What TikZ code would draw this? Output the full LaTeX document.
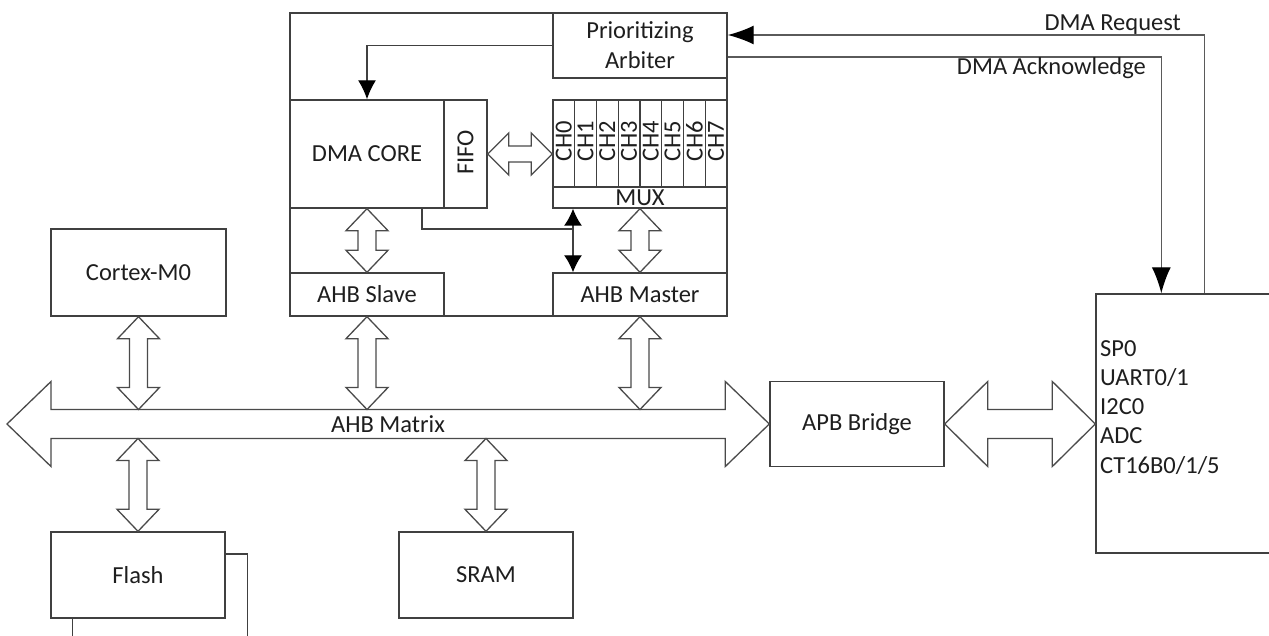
\documentclass[tikz,border=0pt]{standalone}
\usepackage{fontspec}
\setmainfont{Carlito}
\usetikzlibrary{arrows.meta,calc}

\definecolor{edge}{HTML}{404040}
\definecolor{barrow}{HTML}{4A4A4A}
\definecolor{sigline}{HTML}{5A5A5A}
\definecolor{txt}{HTML}{1E1E1E}
\newcommand\diagfont{\fontsize{24.5}{29.25}\selectfont}

% vertical two-headed block arrow: #1 top tip, #2 bottom tip,
% #3 head length, #4 head half width, #5 shaft half width
\newcommand\vblockarrow[5]{%
  \draw[blockarrow] let \p1=(#1), \p2=(#2) in
    (\x1,\y1) -- (\x1+#4,\y1-#3) -- (\x1+#5,\y1-#3) -- (\x1+#5,\y2+#3)
    -- (\x1+#4,\y2+#3) -- (\x1,\y2) -- (\x1-#4,\y2+#3) -- (\x1-#5,\y2+#3)
    -- (\x1-#5,\y1-#3) -- (\x1-#4,\y1-#3) -- cycle;}
% horizontal two-headed block arrow: #1 left tip, #2 right tip
\newcommand\hblockarrow[5]{%
  \draw[blockarrow] let \p1=(#1), \p2=(#2) in
    (\x1,\y1) -- (\x1+#3,\y1+#4) -- (\x1+#3,\y1+#5) -- (\x2-#3,\y1+#5)
    -- (\x2-#3,\y1+#4) -- (\x2,\y1) -- (\x2-#3,\y1-#4) -- (\x2-#3,\y1-#5)
    -- (\x1+#3,\y1-#5) -- (\x1+#3,\y1-#4) -- cycle;}

\tikzset{
  box/.style={draw=edge, line width=1.4pt, inner sep=0pt, text=txt,
    font=\diagfont, fill=white},
  label/.style={inner sep=0pt, text=txt, font=\diagfont},
  blockarrow/.style={draw=barrow, line width=1.3pt, fill=white, line join=miter},
  wire/.style={draw=edge, line width=1.4pt},
  sigwire/.style={draw=sigline, line width=1.4pt},
  headtip/.style={-{Latex[length=26pt,width=19pt,color=black]}},
  smalltip/.style={-{Latex[length=19pt,width=18pt,color=black]}},
  bothtips/.style={{Latex[length=17pt,width=18pt,color=black]}-{Latex[length=17pt,width=18pt,color=black]}},
}

\begin{document}
\begin{tikzpicture}[x=1pt,y=-1pt]
\useasboundingbox (0,0) rectangle (1269,636);
\clip (0,0) rectangle (1269,636);

% DMA controller
\node[box, minimum width=437pt, minimum height=303pt] (dma) at (508.5,164.5) {};
\node[box, minimum width=174pt, minimum height=65pt, align=center,
      font=\fontsize{24.5}{30}\selectfont] (arbiter) at (640,45.5)
      {Prioritizing\\Arbiter};
\node[box, minimum width=154pt, minimum height=108pt] (core) at (367,154) {DMA CORE};
\node[box, minimum width=43pt, minimum height=108pt] (fifo) at (465.5,154) {};
\node[label, rotate=90] (fifolbl) at (465.5,152.5) {FIFO};
\foreach \i in {0,...,7}{
  \node[box, minimum width=21.75pt, minimum height=87pt] (ch\i)
        at ({563.875+\i*21.75},143.5) {};
  \node[label, rotate=90] (chlbl\i) at ($(ch\i.center)+(0,-2)$) {CH\i};
}
\node[box, minimum width=174pt, minimum height=21pt] (mux) at (640,197.5) {MUX};
\node[box, minimum width=154pt, minimum height=43pt] (slave) at (367,294.5) {AHB Slave};
\node[box, minimum width=174pt, minimum height=43pt] (master) at (640,294.5) {AHB Master};

% system blocks
\node[box, minimum width=175pt, minimum height=87pt] (cortex) at (138.5,272.5) {Cortex-M0};
\node[box, minimum width=174pt, minimum height=86pt] (flash) at (138,575) {Flash};
\node[box, minimum width=174pt, minimum height=86pt] (sram) at (486,575) {SRAM};
\node[box, minimum width=174pt, minimum height=85pt] (apb) at (857,424) {APB Bridge};
\node[box, minimum width=210pt, minimum height=259pt] (periph) at (1201,423.5) {};
\node[label, align=left, anchor=north west] (periphlbl) at (1100,340)
  {SP0\\UART0/1\\I2C0\\ADC\\CT16B0/1/5};

% AHB matrix bus
\coordinate (busL) at (7,424);
\coordinate (bustop) at (0,409.5);
\coordinate (busbot) at (0,438.5);
\hblockarrow{busL}{apb.west}{44pt}{42.5pt}{14.5pt}
\node[label] (buslbl) at (388,424) {AHB Matrix};

% bus connections
\vblockarrow{cortex.south}{cortex.south |- bustop}{22pt}{21pt}{9pt}
\vblockarrow{slave.south}{slave.south |- bustop}{22pt}{21pt}{9pt}
\vblockarrow{master.south}{master.south |- bustop}{22pt}{21pt}{9pt}
\vblockarrow{flash.north |- busbot}{flash.north}{22pt}{21pt}{9pt}
\vblockarrow{sram.north |- busbot}{sram.north}{22pt}{21pt}{9pt}
\hblockarrow{apb.east}{apb.east -| periph.west}{43pt}{42.5pt}{14.5pt}

% inside the DMA controller
\vblockarrow{core.south}{slave.north}{22pt}{21pt}{9pt}
\vblockarrow{mux.south}{master.north}{22pt}{21pt}{9pt}
\hblockarrow{fifo.east}{fifo.east -| mux.west}{21pt}{21pt}{8pt}
\draw[wire, smalltip] (arbiter.west) -| (core.north);
\coordinate (jn) at (573,229);
\draw[wire, bothtips] (jn |- mux.south) -- (jn |- master.north);
\draw[wire] ([xshift=55pt]core.south) |- (jn);

% request / acknowledge handshake
\draw[sigwire, headtip] ($(periph.north west)+(109,0)$) |- ($(arbiter.east)+(0,-10.5)$);
\draw[sigwire, headtip] ($(arbiter.east)+(0,11.5)$) -| ($(periph.north west)+(66,0)$);
\node[label, anchor=east] (reqlbl) at (1181,25) {DMA Request};
\node[label, anchor=east] (acklbl) at (1146,68) {DMA Acknowledge};

% flash connections leaving the frame
\draw[wire] ($(flash.east)+(0,-21)$) -- ++(22,0) -- ++(0,100);
\draw[wire] ($(flash.south west)+(22,0)$) -- ++(0,40);
\end{tikzpicture}
\end{document}
